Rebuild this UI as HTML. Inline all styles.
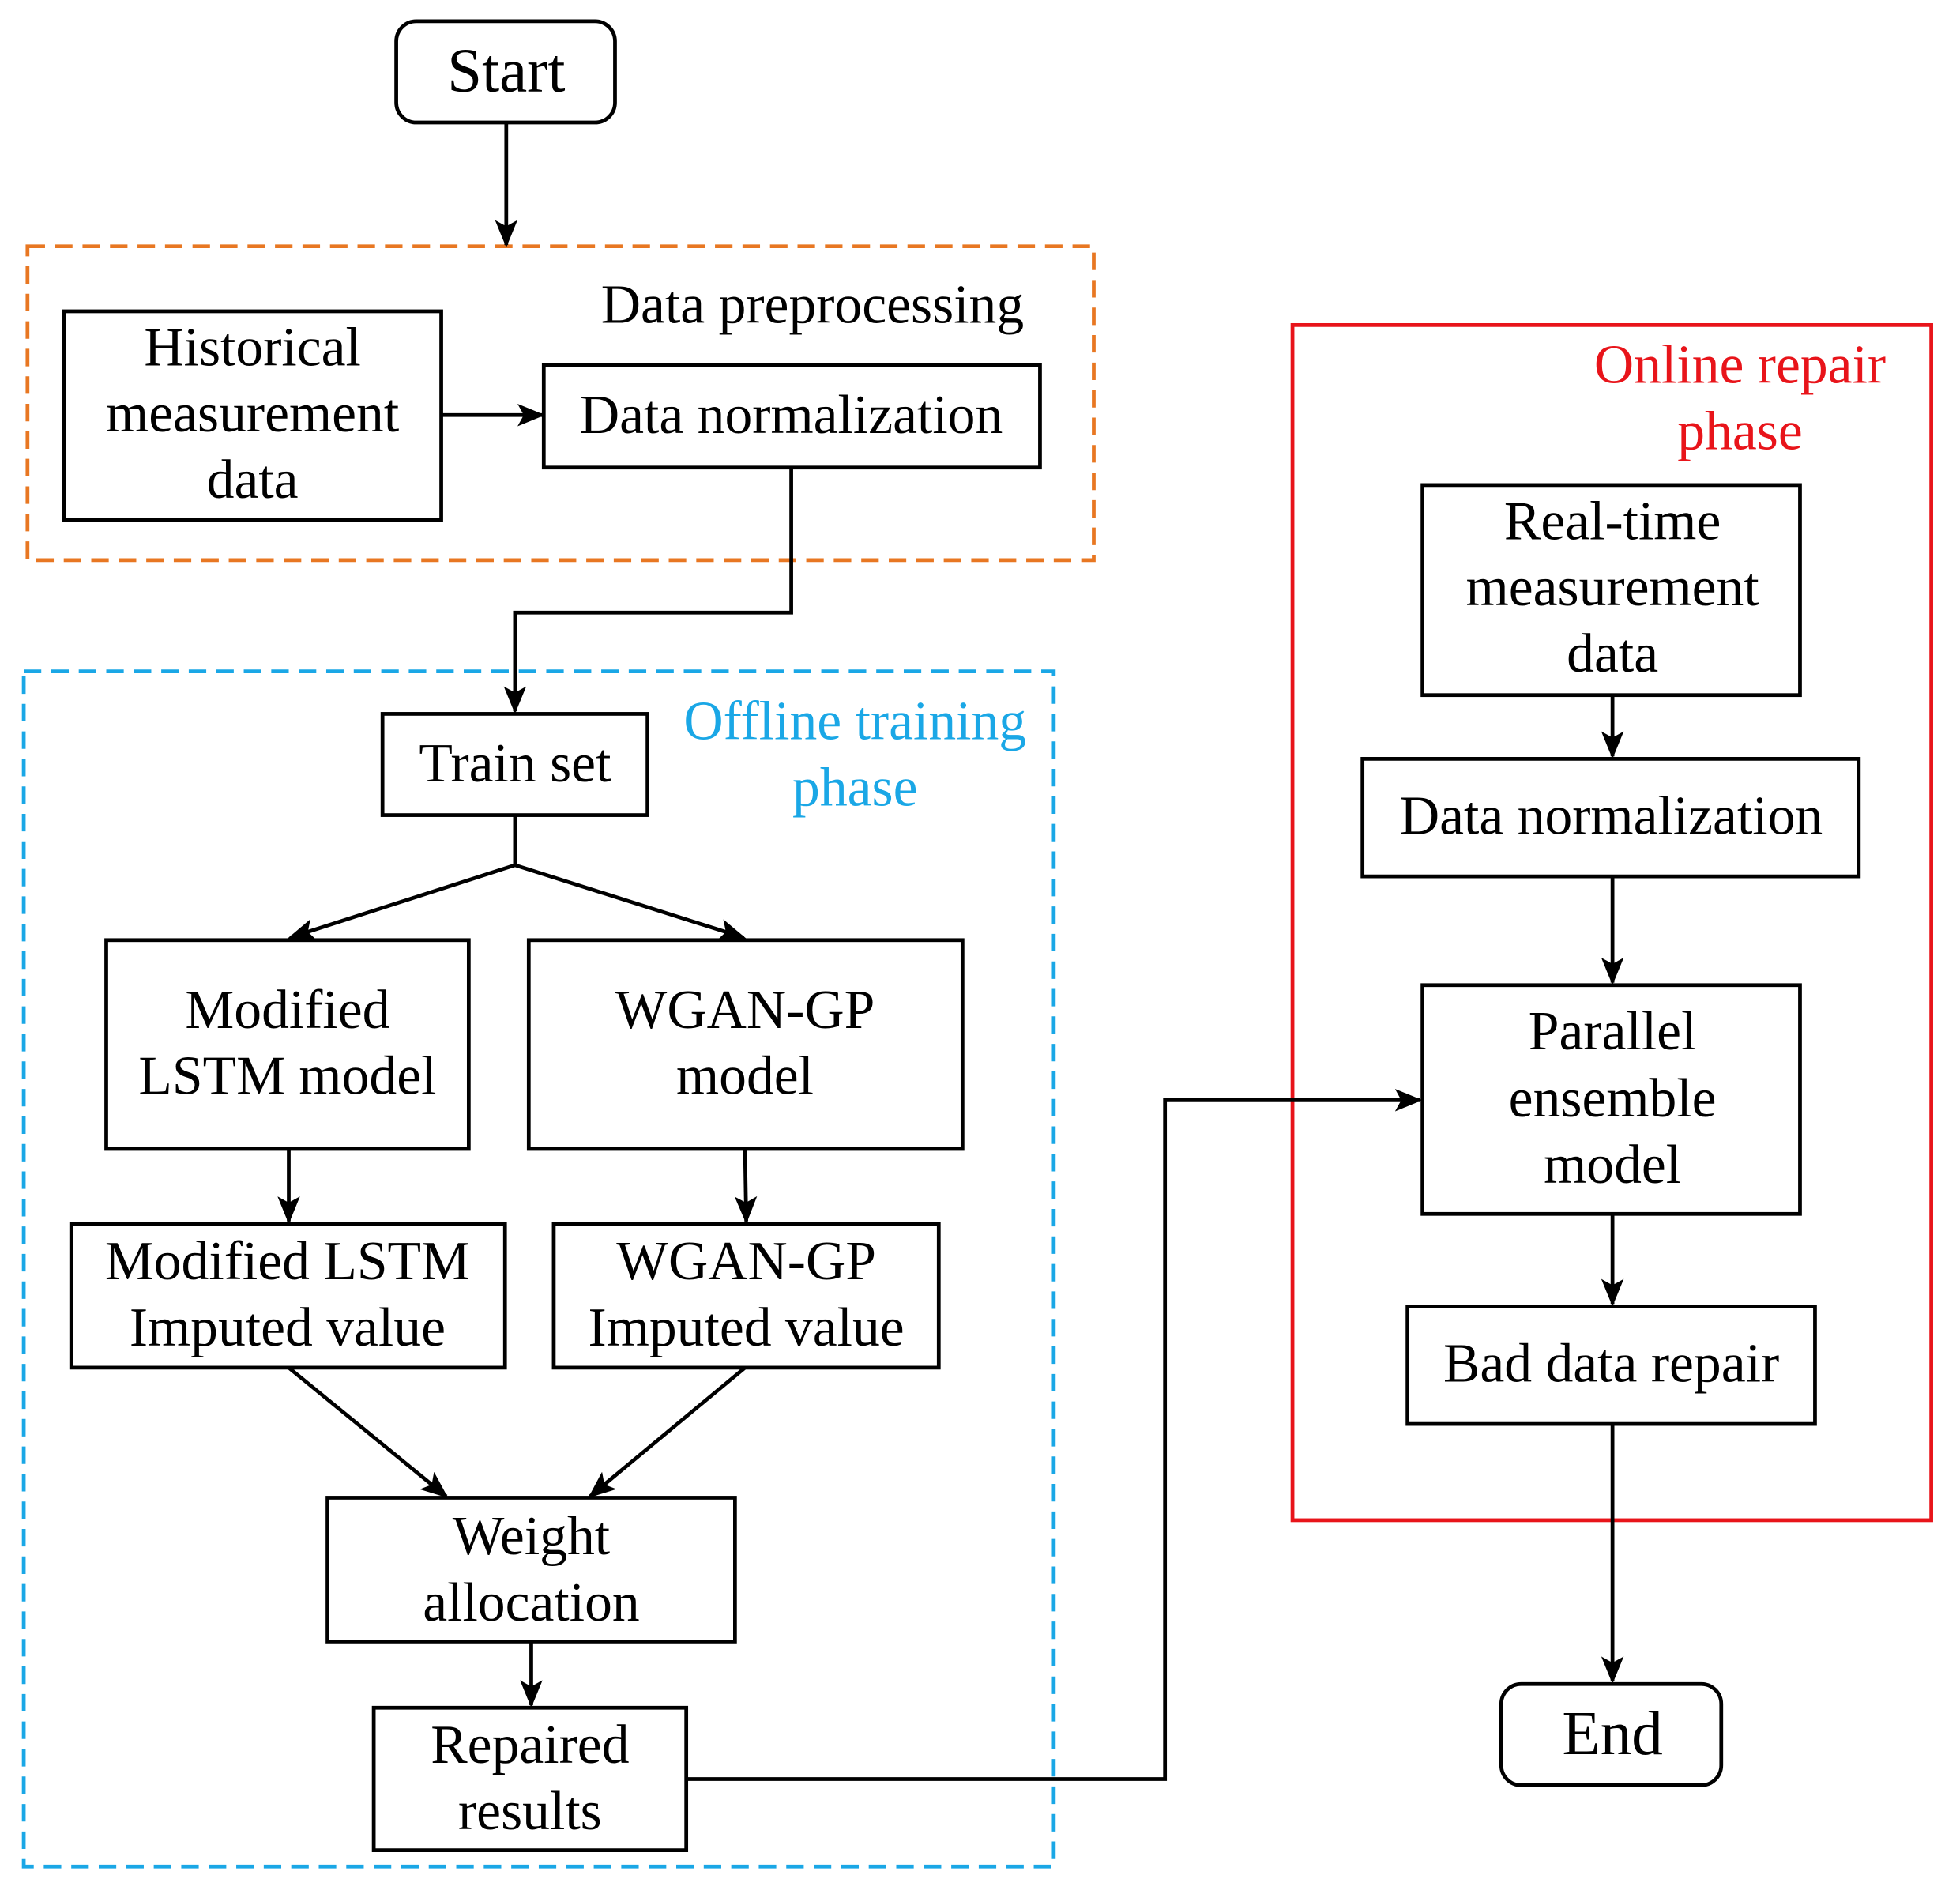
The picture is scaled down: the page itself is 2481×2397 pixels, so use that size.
<!DOCTYPE html>
<html><head><meta charset="utf-8"><style>
html,body{margin:0;padding:0;background:#fff;}
svg{display:block;}
text{font-family:"Liberation Serif",serif;font-size:44px;text-anchor:middle;dominant-baseline:central;fill:#000;}
</style></head><body>
<svg width="2481" height="2397" viewBox="0 0 1568 1515" preserveAspectRatio="none" xmlns="http://www.w3.org/2000/svg">
<defs>
<marker id="a" markerWidth="22" markerHeight="18" refX="20" refY="9" orient="auto" markerUnits="userSpaceOnUse" viewBox="0 0 22 18">
<path d="M0,0 L22,9 L0,18 L5,9 z" fill="#000"/>
</marker>
</defs>
<g fill="none" stroke="#000" stroke-width="3">
<rect x="22" y="197" width="853" height="251" stroke="#e87722" stroke-dasharray="14,8"/>
<rect x="19" y="537" width="824" height="956" stroke="#1aa7e6" stroke-dasharray="14,8"/>
<rect x="1034" y="260" width="511" height="956" stroke="#e8141a"/>
<rect x="317" y="17" width="175" height="81" rx="16"/>
<rect x="51" y="249" width="302" height="167"/>
<rect x="435" y="292" width="397" height="82"/>
<rect x="306" y="571" width="212" height="81"/>
<rect x="85" y="752" width="290" height="167"/>
<rect x="423" y="752" width="347" height="167"/>
<rect x="57" y="979" width="347" height="115"/>
<rect x="443" y="979" width="308" height="115"/>
<rect x="262" y="1198" width="326" height="115"/>
<rect x="299" y="1366" width="250" height="114"/>
<rect x="1138" y="388" width="302" height="168"/>
<rect x="1090" y="607" width="397" height="94"/>
<rect x="1138" y="788" width="302" height="183"/>
<rect x="1126" y="1045" width="326" height="94"/>
<rect x="1201" y="1347" width="176" height="81" rx="16"/>
<g marker-end="url(#a)">
<path d="M405,98 V196"/>
<path d="M353,332 H434"/>
<path d="M633,374 V490 H412 V569"/>
<path d="M412,652 V692 L232,750"/>
<path d="M412,692 L595,750"/>
<path d="M231,919 V977"/>
<path d="M596,919 L597,977"/>
<path d="M231,1094 L357,1197"/>
<path d="M596,1094 L472,1197"/>
<path d="M425,1313 V1364"/>
<path d="M549,1423 H932 V880 H1136"/>
<path d="M1290,556 V605"/>
<path d="M1290,701 V786"/>
<path d="M1290,971 V1043"/>
<path d="M1290,1139 V1345"/>
</g>
</g>
<text x="405" y="57" style="font-size:50px">Start</text>
<text x="650" y="244">Data preprocessing</text>
<text x="202" y="278">Historical</text>
<text x="202" y="331">measurement</text>
<text x="202" y="384">data</text>
<text x="633" y="332">Data normalization</text>
<text x="684" y="577" style="fill:#1aa7e6">Offline training</text>
<text x="684" y="630" style="fill:#1aa7e6">phase</text>
<text x="412" y="611">Train set</text>
<text x="230" y="808">Modified</text>
<text x="230" y="861">LSTM model</text>
<text x="596" y="808">WGAN-GP</text>
<text x="596" y="861">model</text>
<text x="230" y="1009">Modified LSTM</text>
<text x="230" y="1062">Imputed value</text>
<text x="597" y="1009">WGAN-GP</text>
<text x="597" y="1062">Imputed value</text>
<text x="425" y="1229">Weight</text>
<text x="425" y="1282">allocation</text>
<text x="424" y="1396">Repaired</text>
<text x="424" y="1449">results</text>
<text x="1392" y="292" style="fill:#e8141a">Online repair</text>
<text x="1392" y="345" style="fill:#e8141a">phase</text>
<text x="1290" y="417">Real-time</text>
<text x="1290" y="470">measurement</text>
<text x="1290" y="523">data</text>
<text x="1289" y="653">Data normalization</text>
<text x="1290" y="825">Parallel</text>
<text x="1290" y="879">ensemble</text>
<text x="1290" y="932">model</text>
<text x="1289" y="1091">Bad data repair</text>
<text x="1290" y="1387" style="font-size:50px">End</text>
</svg>
</body></html>
